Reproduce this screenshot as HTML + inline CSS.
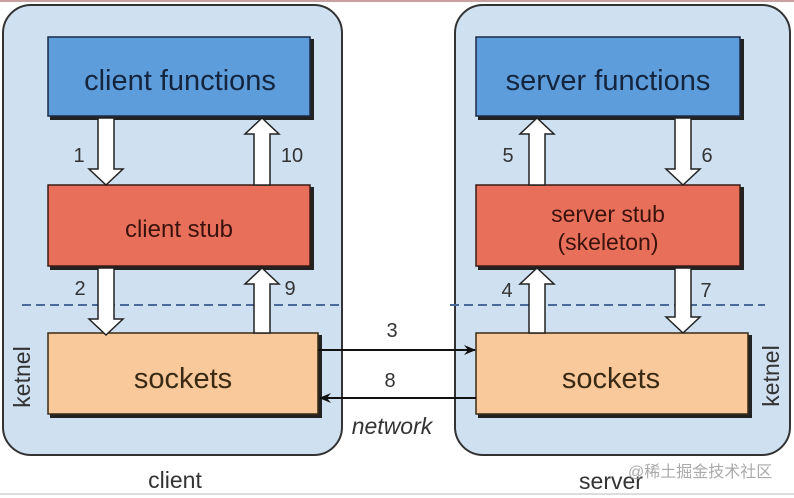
<!DOCTYPE html>
<html><head><meta charset="utf-8"><style>
html,body{margin:0;padding:0;background:#fff;}
svg{display:block;font-family:"Liberation Sans","Noto Sans CJK SC",sans-serif;}
</style></head><body>
<svg width="794" height="498" viewBox="0 0 794 498" xmlns="http://www.w3.org/2000/svg">
<defs>
<marker id="ah" markerWidth="12" markerHeight="10" refX="11" refY="5" orient="auto" markerUnits="userSpaceOnUse">
<path d="M0,0 L12,5 L0,10 L4,5 Z" fill="#111"/>
</marker>
</defs>
<rect x="0" y="0" width="794" height="498" fill="#fff"/>
<line x1="0" y1="1" x2="794" y2="1" stroke="#c9a0a0" stroke-width="2"/>
<rect x="3" y="5" width="339" height="450" rx="28" fill="#cfe0f1" stroke="#333" stroke-width="2"/>
<rect x="455" y="5" width="335" height="450" rx="28" fill="#cfe0f1" stroke="#333" stroke-width="2"/>
<line x1="22" y1="305" x2="340" y2="305" stroke="#4a6a9a" stroke-width="2" stroke-dasharray="9,5"/>
<line x1="450" y1="305" x2="765" y2="305" stroke="#4a6a9a" stroke-width="2" stroke-dasharray="9,5"/>
<rect x="50" y="39" width="264" height="81" fill="#222"/>
<rect x="48" y="37" width="262" height="79" fill="#5e9ddb" stroke="#1a2a44" stroke-width="1.5"/>
<rect x="50" y="187" width="264" height="83" fill="#222"/>
<rect x="48" y="185" width="262" height="81" fill="#e8705a" stroke="#3a1a14" stroke-width="1.5"/>
<rect x="50" y="335" width="272" height="83" fill="#222"/>
<rect x="48" y="333" width="270" height="81" fill="#f9c99b" stroke="#3a2a14" stroke-width="1.5"/>
<rect x="478" y="39" width="266" height="81" fill="#222"/>
<rect x="476" y="37" width="264" height="79" fill="#5e9ddb" stroke="#1a2a44" stroke-width="1.5"/>
<rect x="478" y="187" width="266" height="83" fill="#222"/>
<rect x="476" y="185" width="264" height="81" fill="#e8705a" stroke="#3a1a14" stroke-width="1.5"/>
<rect x="478" y="335" width="274" height="83" fill="#222"/>
<rect x="476" y="333" width="272" height="81" fill="#f9c99b" stroke="#3a2a14" stroke-width="1.5"/>
<g fill="#fff" stroke="#222" stroke-width="1.5">
<path d="M98,118 H114 V169 H123 L106,185 L89,169 H98 Z"/>
<path d="M98,268 H114 V319 H123 L106,335 L89,319 H98 Z"/>
<path d="M675,118 H691 V169 H700 L683,185 L666,169 H675 Z"/>
<path d="M675,268 H691 V317 H700 L683,333 L666,317 H675 Z"/>
<path d="M254,185 H270 V134 H279 L262,118 L245,134 H254 Z"/>
<path d="M254,333 H270 V284 H279 L262,268 L245,284 H254 Z"/>
<path d="M529,185 H545 V134 H554 L537,118 L520,134 H529 Z"/>
<path d="M529,333 H545 V284 H554 L537,268 L520,284 H529 Z"/>
</g>
<line x1="318" y1="350" x2="475" y2="350" stroke="#111" stroke-width="2" marker-end="url(#ah)"/>
<line x1="476" y1="398" x2="320" y2="398" stroke="#111" stroke-width="2" marker-end="url(#ah)"/>
<g text-anchor="middle" font-size="29">
<text x="180" y="90" fill="#15253d">client functions</text>
<text x="179" y="237" font-size="24" fill="#3a120c">client stub</text>
<text x="183" y="388" fill="#3a2a14">sockets</text>
<text x="608" y="90" fill="#15253d">server functions</text>
<text x="608" y="222" font-size="23" fill="#3a120c">server stub</text>
<text x="608" y="250" font-size="23" fill="#3a120c">(skeleton)</text>
<text x="611" y="388" fill="#3a2a14">sockets</text>
</g>
<g font-size="20" fill="#333" text-anchor="middle">
<text x="79" y="162">1</text>
<text x="292" y="162">10</text>
<text x="80" y="295">2</text>
<text x="290" y="295">9</text>
<text x="508" y="162">5</text>
<text x="707" y="162">6</text>
<text x="507" y="297">4</text>
<text x="706" y="297">7</text>
<text x="392" y="337">3</text>
<text x="390" y="387">8</text>
<text x="392" y="434" font-size="23" font-style="italic">network</text>
<text x="175" y="488" font-size="23">client</text>
<text x="611" y="489" font-size="23">server</text>
</g>
<text transform="translate(30,377) rotate(-90)" text-anchor="middle" font-size="23" fill="#333">ketnel</text>
<text transform="translate(779,376) rotate(-90)" text-anchor="middle" font-size="23" fill="#333">ketnel</text>
<text x="628" y="477" font-size="16" fill="#aaa">@稀土掘金技术社区</text>
<line x1="0" y1="494" x2="794" y2="494" stroke="#ddd" stroke-width="2"/>
</svg>
</body></html>
